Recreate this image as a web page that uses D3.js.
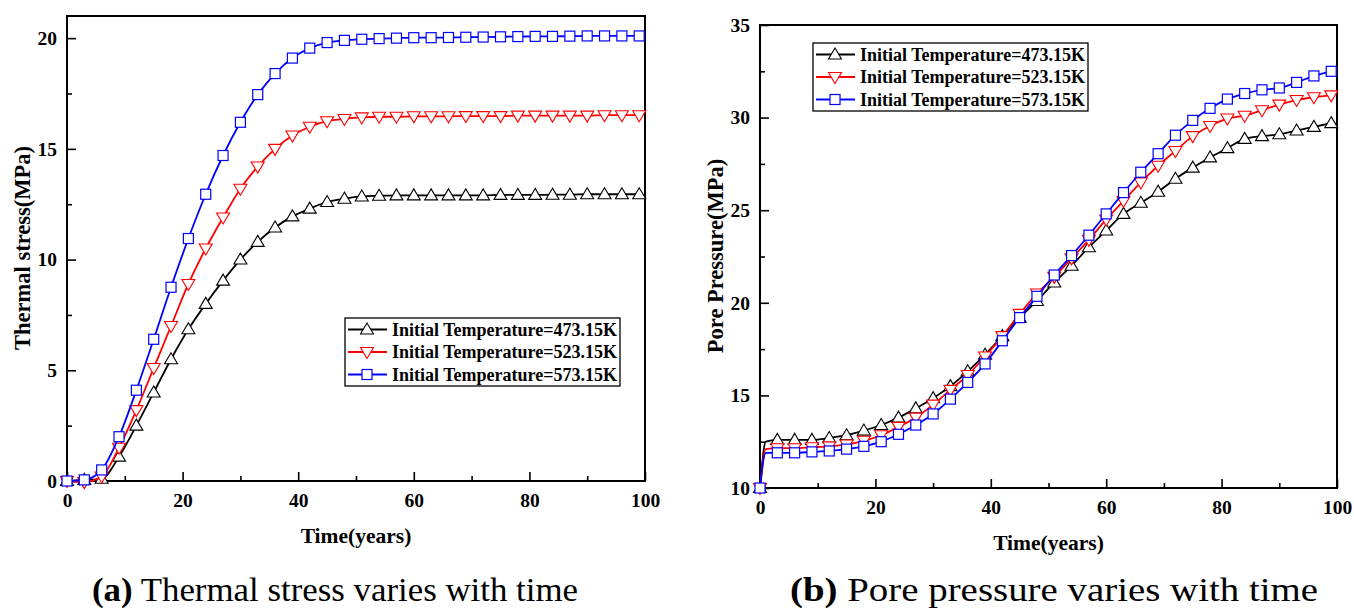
<!DOCTYPE html>
<html lang="en">
<head>
<meta charset="UTF-8">
<title>Thermal stress and pore pressure</title>
<script src="https://d3js.org/d3.v7.min.js"></script>
<style>
  body { margin: 0; background: #fff; }
</style>
</head>
<body>
<div id="chart"></div>
<script>
// ====== DATA ======
var seriesNames = ["Initial Temperature=473.15K", "Initial Temperature=523.15K", "Initial Temperature=573.15K"];
var seriesColors = ["#000000", "#ff0000", "#0000ff"];
var seriesSymbols = ["up", "down", "square"];

// (a) thermal stress, sampled every 3 years
var timeA = [0,3,6,9,12,15,18,21,24,27,30,33,36,39,42,45,48,51,54,57,60,63,66,69,72,75,78,81,84,87,90,93,96,99];
var stress473 = [0,0.05,0.1,1.1,2.5,4.0,5.5,6.85,8.0,9.05,10.0,10.8,11.45,11.95,12.3,12.6,12.75,12.85,12.88,12.9,12.9,12.9,12.9,12.9,12.9,12.92,12.92,12.92,12.93,12.93,12.95,12.95,12.95,12.95];
var stress523 = [0,-0.05,0.2,1.5,3.2,5.1,7.0,8.9,10.5,11.9,13.2,14.2,15.0,15.6,16.0,16.25,16.35,16.42,16.45,16.45,16.47,16.47,16.47,16.48,16.48,16.48,16.5,16.5,16.5,16.5,16.5,16.52,16.52,16.52];
var stress573 = [0,0.05,0.5,2.0,4.1,6.4,8.75,10.95,12.95,14.7,16.2,17.45,18.4,19.1,19.55,19.8,19.9,19.95,19.98,20.0,20.02,20.02,20.03,20.04,20.05,20.06,20.07,20.08,20.08,20.09,20.1,20.1,20.1,20.1];

// (b) pore pressure; t=1 is the jump point (no marker)
var timeB = [0,1,3,6,9,12,15,18,21,24,27,30,33,36,39,42,45,48,51,54,57,60,63,66,69,72,75,78,81,84,87,90,93,96,99];
var pore473 = [10,12.5,12.6,12.6,12.6,12.7,12.85,13.1,13.4,13.8,14.3,14.85,15.5,16.3,17.2,18.2,19.2,20.1,21.1,22.0,23.0,23.9,24.8,25.4,26.0,26.7,27.3,27.85,28.35,28.85,29.0,29.1,29.3,29.5,29.7];
var pore523 = [10,12.1,12.15,12.15,12.2,12.25,12.35,12.55,12.85,13.3,13.8,14.5,15.3,16.1,17.1,18.2,19.4,20.5,21.4,22.4,23.4,24.5,25.5,26.5,27.4,28.2,29.0,29.55,29.95,30.1,30.4,30.7,30.95,31.1,31.2];
var pore573 = [10,11.9,11.9,11.9,11.95,12.0,12.1,12.25,12.5,12.9,13.4,14.0,14.8,15.7,16.7,17.95,19.2,20.35,21.5,22.55,23.65,24.8,25.95,27.05,28.05,29.05,29.85,30.5,31.0,31.3,31.5,31.6,31.9,32.25,32.5];

var xTicks = [0, 20, 40, 60, 80, 100];
var xMinor = [10, 30, 50, 70, 90];
var yTicksA = [0, 5, 10, 15, 20];
var yTicksB = [10, 15, 20, 25, 30, 35];

var W = 1354, H = 610;
var FONT = "'Liberation Serif', 'Times New Roman', serif";
var svg = d3.select("#chart").append("svg").attr("width", W).attr("height", H)
  .attr("font-family", FONT);

function marker(g, type, x, y, color) {
  if (type === "square") {
    g.append("rect").attr("x", x - 5).attr("y", y - 5).attr("width", 10).attr("height", 10)
      .attr("fill", "#fff").attr("stroke", color).attr("stroke-width", 1.2);
  } else {
    var s = type === "up" ? -1 : 1;
    var pts = [[x, y + s * 6.5], [x - 6.5, y - s * 4.5], [x + 6.5, y - s * 4.5]];
    g.append("path").attr("d", "M" + pts.join("L") + "Z")
      .attr("fill", "#fff").attr("stroke", color).attr("stroke-width", 1.1);
  }
}

function panel(opt) {
  var x = d3.scaleLinear().domain([0, 100]).range([opt.left, opt.right]);
  var y = d3.scaleLinear().domain(opt.yDomain).range([opt.bottom, opt.top]);
  var g = svg.append("g");

  // axes, ticks pointing inward
  g.append("g").attr("transform", "translate(0," + opt.bottom + ")")
    .call(d3.axisBottom(x).tickValues(xTicks).tickSizeInner(-9).tickSizeOuter(0).tickPadding(12).tickFormat(d3.format("d")));
  g.append("g").attr("transform", "translate(0," + opt.bottom + ")")
    .call(d3.axisBottom(x).tickValues(xMinor).tickSizeInner(-5).tickSizeOuter(0).tickFormat(""));
  g.append("g").attr("transform", "translate(" + opt.left + ",0)")
    .call(d3.axisLeft(y).tickValues(opt.yTicks).tickSizeInner(-9).tickSizeOuter(0).tickPadding(10).tickFormat(d3.format("d")));
  g.append("g").attr("transform", "translate(" + opt.left + ",0)")
    .call(d3.axisLeft(y).tickValues(opt.yMinor).tickSizeInner(-5).tickSizeOuter(0).tickFormat(""));
  g.selectAll(".domain").remove();
  g.selectAll("g").attr("font-family", FONT);
  g.selectAll(".tick line").attr("stroke", "#000").attr("stroke-width", 1.6);
  g.selectAll(".tick text").attr("font-size", 19.5).attr("font-weight", "bold").attr("fill", "#000");

  // frame
  g.append("rect").attr("x", opt.left).attr("y", opt.top)
    .attr("width", opt.right - opt.left).attr("height", opt.bottom - opt.top)
    .attr("fill", "none").attr("stroke", "#000").attr("stroke-width", 2);

  // curves
  var line = d3.line().x(function (d) { return x(d[0]); }).y(function (d) { return y(d[1]); })
    .curve(d3.curveMonotoneX);
  opt.series.forEach(function (vals, i) {
    var pts = opt.time.map(function (t, j) { return [t, vals[j]]; });
    g.append("path").datum(pts).attr("d", line).attr("fill", "none")
      .attr("stroke", seriesColors[i]).attr("stroke-width", 1.8);
    var mg = g.append("g");
    pts.forEach(function (p, j) {
      if (opt.skip.indexOf(j) >= 0) return;
      marker(mg, seriesSymbols[i], x(p[0]), y(p[1]), seriesColors[i]);
    });
  });

  // axis titles
  g.append("text").attr("x", (opt.left + opt.right) / 2).attr("y", opt.bottom + 62)
    .attr("text-anchor", "middle").attr("font-size", 21.5).attr("font-weight", "bold").text("Time(years)");
  g.append("text").attr("transform", "translate(" + opt.ytX + "," + opt.ytY + ") rotate(-90)")
    .attr("text-anchor", "middle").attr("font-size", 22.5).attr("font-weight", "bold").text(opt.yTitle);

  // legend
  var lg = g.append("g").attr("transform", "translate(" + opt.legX + "," + opt.legY + ")");
  lg.append("rect").attr("x", 0).attr("y", 0).attr("width", 275).attr("height", 68)
    .attr("fill", "#fff").attr("stroke", "#000").attr("stroke-width", 1.3);
  seriesNames.forEach(function (name, i) {
    var cy = 11.5 + i * 22.5;
    lg.append("line").attr("x1", 3).attr("x2", 42).attr("y1", cy).attr("y2", cy)
      .attr("stroke", seriesColors[i]).attr("stroke-width", 1.8);
    marker(lg, seriesSymbols[i], 22, cy, seriesColors[i]);
    lg.append("text").attr("x", 47).attr("y", cy + 6).attr("font-size", 18)
      .attr("font-weight", "bold").text(name);
  });

  // caption
  var cap = svg.append("text").attr("x", opt.capX).attr("y", 601).attr("text-anchor", "middle")
    .attr("font-size", 33).attr("textLength", opt.capW).attr("lengthAdjust", "spacingAndGlyphs");
  cap.append("tspan").attr("font-weight", "bold").text(opt.capTag);
  cap.append("tspan").text(" " + opt.capText);
}

panel({
  left: 67, right: 645, top: 16, bottom: 481,
  yDomain: [0, 21], yTicks: yTicksA, yMinor: [2.5, 7.5, 12.5, 17.5],
  time: timeA, series: [stress473, stress523, stress573], skip: [],
  yTitle: "Thermal stress(MPa)", ytX: 30, ytY: 248,
  legX: 345, legY: 318,
  capX: 335, capW: 486, capTag: "(a)", capText: "Thermal stress varies with time"
});

panel({
  left: 760, right: 1337, top: 25, bottom: 488,
  yDomain: [10, 35], yTicks: yTicksB, yMinor: [12.5, 17.5, 22.5, 27.5, 32.5],
  time: timeB, series: [pore473, pore523, pore573], skip: [1],
  yTitle: "Pore Pressure(MPa)", ytX: 723, ytY: 256,
  legX: 813, legY: 43,
  capX: 1054, capW: 528, capTag: "(b)", capText: "Pore pressure varies with time"
});
</script>
</body>
</html>
